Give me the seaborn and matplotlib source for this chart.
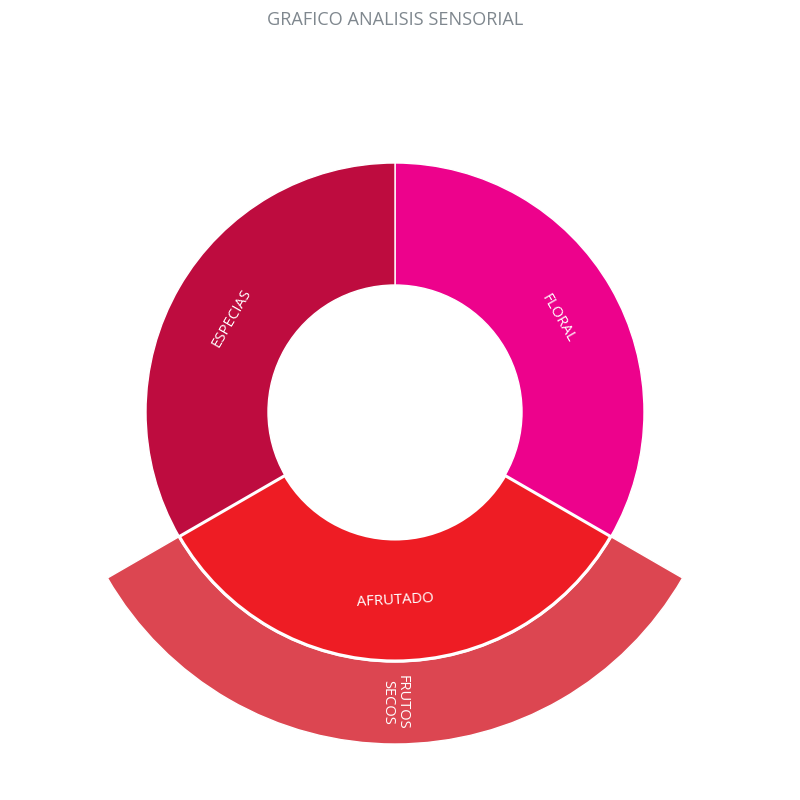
import numpy as np
import matplotlib
matplotlib.use("Agg")
import matplotlib.pyplot as plt
import seaborn as sns

sns.set_theme(style="white")
plt.rcParams['font.family'] = ['Open Sans', 'DejaVu Sans']

# Data
inner_labels = ["FLORAL", "AFRUTADO", "ESPECIAS"]
inner_values = [1, 1, 1]
inner_colors = ["#ED028C", "#EE1C24", "#BE0C3F"]
outer_labels = ["FRUTOS\nSECOS"]
outer_parent = "AFRUTADO"
outer_values = [1]
outer_color = "#DC4651"
title = "GRAFICO ANALISIS SENSORIAL"

fig = plt.figure(figsize=(8, 8), dpi=100)
ax = fig.add_axes([0, 0, 1, 1])

R_hole, R_mid, R_out = 127, 249, 332

# inner ring
wedges, _ = ax.pie(inner_values, radius=R_mid, startangle=90, counterclock=False,
                   colors=inner_colors,
                   wedgeprops=dict(width=R_mid - R_hole, edgecolor='white', linewidth=1.0))
for w, lab in zip(wedges, inner_labels):
    if lab == outer_parent:
        w.set_linewidth(2.2)
        w.set_zorder(3)
    mid = np.deg2rad((w.theta1 + w.theta2) / 2)
    r = (R_hole + R_mid) / 2
    rot = np.rad2deg(mid) - 90
    rot = (rot + 180) % 360 - 180
    if rot > 90: rot -= 180
    if rot < -90: rot += 180
    if lab == "AFRUTADO":
        rot += 3
    ax.text(r * np.cos(mid), r * np.sin(mid), lab, color='white', fontsize=10.7,
            rotation=rot, rotation_mode='anchor', ha='center', va='center', zorder=5)

# outer ring (child of AFRUTADO)
par = wedges[inner_labels.index(outer_parent)]
span = par.theta2 - par.theta1
frac = span / 360
vals = [v * frac / sum(outer_values) for v in outer_values]
vals.append(1 - sum(vals))
ow, _ = ax.pie(vals, radius=R_out, startangle=par.theta1, counterclock=True,
               colors=[outer_color, 'white'], normalize=False,
               wedgeprops=dict(width=R_out - R_mid - 1, edgecolor='white', linewidth=1.0))
ow[-1].set_visible(False)
for w, lab in zip(ow[:-1], outer_labels):
    mid = np.deg2rad((w.theta1 + w.theta2) / 2)
    r = (R_mid + R_out) / 2
    rot = np.rad2deg(mid)
    rot = (rot + 180) % 360 - 180
    if rot > 90: rot -= 180
    if rot < -90: rot += 180
    ax.text(r * np.cos(mid), r * np.sin(mid), lab, color='white', fontsize=10.5,
            rotation=rot, rotation_mode='anchor', ha='center', va='center',
            linespacing=1.0, zorder=5)

ax.set_xlim(-395, 405)
ax.set_ylim(-388, 412)
ax.set_aspect('equal')
ax.axis('off')

fig.text(395 / 800, 1 - 20 / 800, title, ha='center', va='center',
         fontsize=13.1, color='#7F878E')

fig.savefig("out.png", dpi=100, facecolor='white')
